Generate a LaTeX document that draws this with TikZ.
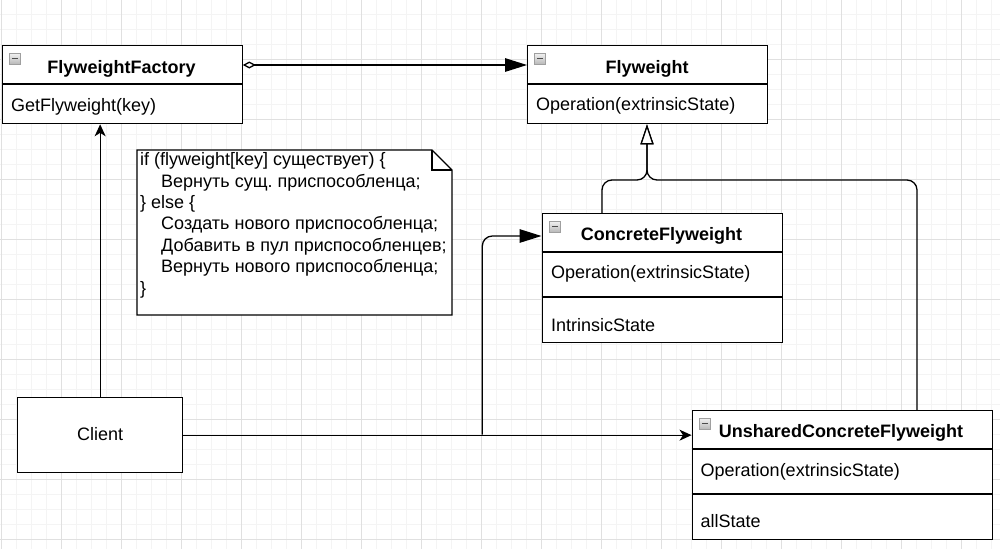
\documentclass[tikz,border=0pt]{standalone}
\usepackage{fontspec}
\setmainfont{Liberation Sans}
\usetikzlibrary{arrows.meta}
\definecolor{gridmajor}{RGB}{224,224,224}
\definecolor{gridminor}{RGB}{244,244,244}
\frenchspacing
\begin{document}
\begin{tikzpicture}[x=1pt,y=-1pt,
  umlbox/.style={draw=black, line width=1.3pt, fill=white, inner sep=0pt, anchor=north west},
  headtext/.style={font=\fontsize{18}{21}\selectfont\bfseries, inner sep=0pt},
  membertext/.style={font=\fontsize{18}{21}\selectfont, inner sep=0pt, anchor=west},
  sepline/.style={line width=1.3pt},
  conn/.style={line width=1.3pt},
  classictip/.style={-{Stealth[length=12pt,width=11pt,inset=3.5pt]}},
  blocktip/.style={-{Triangle[length=22pt,width=13.5pt]}},
  gentip/.style={-{Triangle[open,length=20pt,width=13pt,fill=white]}},
  collapse/.pic={
    \shade[top color=gray!10, bottom color=gray!55, draw=gray!75, line width=0.6pt] (0,0) rectangle (11,11);
    \draw[black!70, line width=1.6pt] (2.5,5.5) -- (8.5,5.5);
  }]
\useasboundingbox (0,0) rectangle (1000,549);
\fill[white] (0,0) rectangle (1000,549);
% grid
\foreach \x in {1.3,16.3,...,1000} \draw[gridminor, line width=1pt] (\x,0) -- (\x,549);
\foreach \y in {-0.7,14.3,...,549} \draw[gridminor, line width=1pt] (0,\y) -- (1000,\y);
\foreach \x in {1.3,61.3,...,1000} \draw[gridmajor, line width=1pt] (\x,0) -- (\x,549);
\foreach \y in {-0.7,59.3,...,549} \draw[gridmajor, line width=1pt] (0,\y) -- (1000,\y);

% FlyweightFactory
\node[umlbox, minimum width=240pt, minimum height=78pt] (factory) at (1.5,45) {};
\draw[sepline] ([yshift=-39pt]factory.north west) -- ([yshift=-39pt]factory.north east);
\pic at (9.5,53) {collapse};
\node[headtext] (factoryhead) at (121.5,68.5) {FlyweightFactory};
\node[membertext] (factoryop) at (11,106.5) {GetFlyweight(key)};

% Flyweight
\node[umlbox, minimum width=240pt, minimum height=78pt] (flyweight) at (527,45) {};
\draw[sepline] ([yshift=-39pt]flyweight.north west) -- ([yshift=-39pt]flyweight.north east);
\pic at (534.5,53) {collapse};
\node[headtext] (flyweighthead) at (647,68.5) {Flyweight};
\node[membertext] (flyweightop) at (536,106) {Operation(extrinsicState)};

% ConcreteFlyweight
\node[umlbox, minimum width=240.5pt, minimum height=129pt] (concrete) at (541.5,213) {};
\draw[sepline] ([yshift=-39pt]concrete.north west) -- ([yshift=-39pt]concrete.north east);
\draw[sepline] ([yshift=-84pt]concrete.north west) -- ([yshift=-84pt]concrete.north east);
\pic at (549.5,221) {collapse};
\node[headtext] (concretehead) at (661.5,236) {ConcreteFlyweight};
\node[membertext] (concreteop) at (551,273.5) {Operation(extrinsicState)};
\node[membertext] (concretestate) at (551,325) {IntrinsicState};

% UnsharedConcreteFlyweight
\node[umlbox, minimum width=300pt, minimum height=128.5pt] (unshared) at (691.5,410) {};
\draw[sepline] ([yshift=-39pt]unshared.north west) -- ([yshift=-39pt]unshared.north east);
\draw[sepline] ([yshift=-84pt]unshared.north west) -- ([yshift=-84pt]unshared.north east);
\pic at (699.5,418) {collapse};
\node[headtext] (unsharedhead) at (841,432.5) {UnsharedConcreteFlyweight};
\node[membertext] (unsharedop) at (700.5,471.5) {Operation(extrinsicState)};
\node[membertext] (unsharedstate) at (700.5,521.5) {allState};

% Client
\node[umlbox, minimum width=165pt, minimum height=75pt] (client) at (17,397) {};
\node[font=\fontsize{18}{21}\selectfont, inner sep=0pt] (clienttext) at ([yshift=1pt]client.center) {Client};

% Note
\draw[line width=1.3pt, fill=white] (137,150) -- (432,150) -- (452,170) -- (452,315) -- (137,315) -- cycle;
\draw[line width=1.3pt] (432,150) -- (432,170) -- (452,170);
\node[anchor=north west, inner sep=0pt, align=left, font=\fontsize{18}{21.4}\selectfont] (notetext) at (140,152.5)
{if (flyweight[key] существует) \{\\
\hspace*{21pt}Вернуть сущ. приспособленца;\\
\} else \{\\
\hspace*{21pt}Создать нового приспособленца;\\
\hspace*{21pt}Добавить в пул приспособленцев;\\
\hspace*{21pt}Вернуть нового приспособленца;\\
\}};

% Connectors
\draw[conn, {Diamond[open,length=13pt,width=7pt,fill=white]}-{Triangle[length=22pt,width=13.5pt]}]
  ([yshift=-20pt]factory.north east) -- ([yshift=-20pt]flyweight.north west);
\draw[conn, classictip] (client.north) -- (client.north |- factory.south);
\draw[conn, classictip] (client.east) -- (client.east -| unshared.west);
\coordinate (junc) at (482.3,434.5);
\draw[conn, blocktip, rounded corners=10pt] (junc) |- ([yshift=-23pt]concrete.north west);
\coordinate (gsplit) at (647,180);
\draw[conn, gentip, rounded corners=10pt] ([xshift=60.5pt]concrete.north west) |- (gsplit) -- (gsplit |- flyweight.south);
\draw[conn, gentip, rounded corners=10pt] ([xshift=225.5pt]unshared.north west) |- (gsplit) -- (gsplit |- flyweight.south);
\end{tikzpicture}
\end{document}
